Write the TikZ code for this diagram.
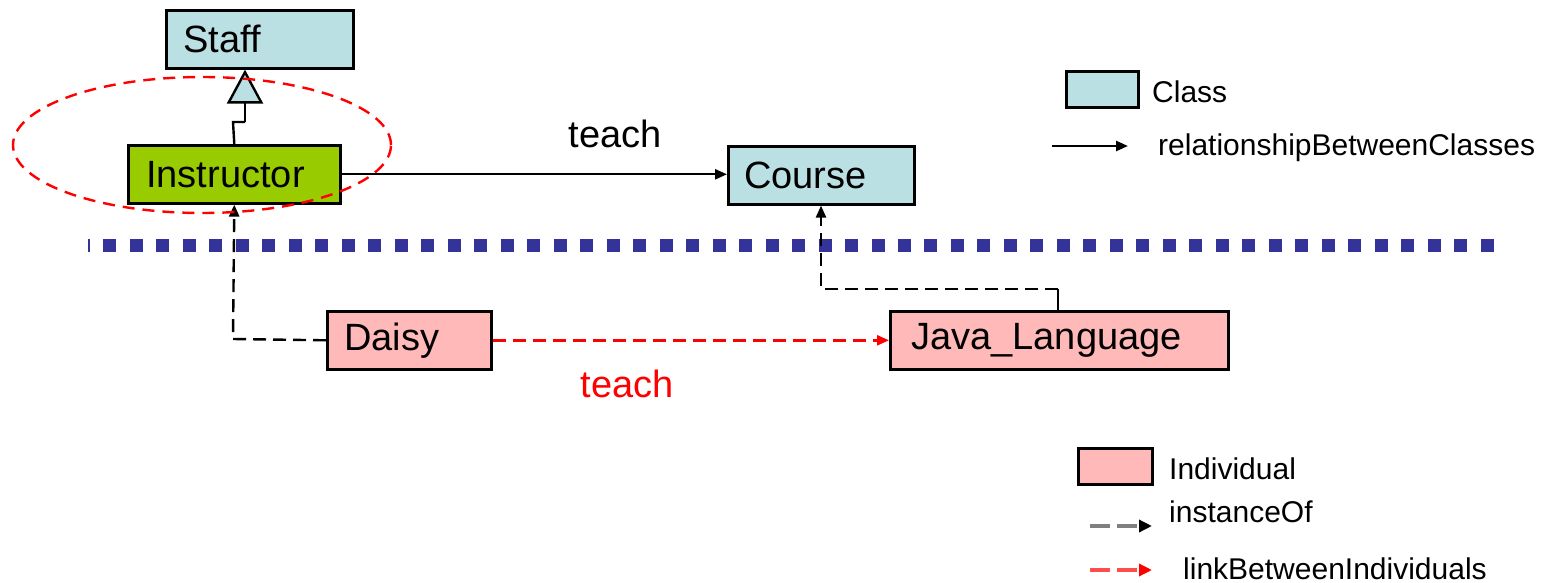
\documentclass[tikz,border=0pt]{standalone}
\usepackage{fontspec}
\setmainfont{Liberation Sans}
\usetikzlibrary{arrows.meta}
\definecolor{clsblue}{RGB}{187,224,227}
\definecolor{indpink}{RGB}{255,185,185}
\definecolor{instgreen}{RGB}{153,204,0}
\definecolor{dotblue}{RGB}{51,51,153}
\begin{document}
\begin{tikzpicture}[x=1pt,y=-1pt,
  basebox/.style={draw=black, line width=2.6pt, inner xsep=17pt, inner ysep=0pt,
    minimum height=58pt, anchor=north west, align=left,
    font=\fontsize{38}{40}\selectfont},
  clsbox/.style={basebox, fill=clsblue},
  indbox/.style={basebox, fill=indpink},
  grnbox/.style={basebox, fill=instgreen},
  legbox/.style={draw=black, line width=2.6pt, inner sep=0pt, anchor=north west},
  legtext/.style={anchor=base west, inner sep=0pt, font=\fontsize{30}{32}\selectfont},
  tip/.style={-{Triangle[length=12pt,width=10pt]}},
  conn/.style={line width=2.4pt, tip},
  instof/.style={line width=2.4pt, dash pattern=on 13pt off 7pt, tip},
  redlink/.style={line width=2.4pt, red, dash pattern=on 13pt off 7pt, tip}
]
\useasboundingbox[fill=white] (0,0) rectangle (1551,583);

% separator
\draw[line width=13pt, dotblue, dash pattern=on 13pt off 13.49pt, dash phase=11.2pt]
  (88,245) -- (1494,245);

% class nodes
\node[clsbox, text width=153pt] (staff) at (165,9) {Staff};
\node[grnbox, text width=176pt, inner xsep=18pt] (instr) at (127,144) {Instructor};
\node[clsbox, text width=154pt, inner xsep=16pt] (course) at (727,145) {Course};

% individuals
\node[indbox, text width=130pt] (daisy) at (326,310) {Daisy};
\node[indbox, text width=296pt, inner xsep=21pt] (java) at (889,310) {Java\_Language};

% generalization
\coordinate (g1) at (233,122);
\coordinate (g2) at (245,122);
\draw[line width=2.4pt] (instr.north) -- (g1) -- (g2);
\draw[line width=2.4pt, -{Triangle[length=34pt,width=36pt,fill=clsblue]}]
  (g2) -- (staff.south -| g2);

% teach relationship
\draw[conn] (instr.east) -- (course.west |- instr.east);
\node[anchor=base, inner sep=0pt, font=\fontsize{38}{40}\selectfont] (teachlbl) at (615,148) {teach};

% instanceOf links
\coordinate (d1) at (233,339);
\draw[instof] (daisy.west) -- (d1) -- (instr.south);
\coordinate (j1) at (1058,289);
\coordinate (j2) at (821,289);
\draw[line width=2.4pt] (java.north -| j1) -- (j1);
\draw[instof] (j1) -- (j2) -- (course.south -| j2);

% link between individuals
\draw[redlink] (daisy.east) -- (java.west |- daisy.east);
\node[anchor=base, inner sep=0pt, red, font=\fontsize{38}{40}\selectfont] (teachred) at (627,397) {teach};

% highlight ellipse
\draw[red, line width=2.4pt, dash pattern=on 12pt off 8pt] (202,145) ellipse [x radius=189pt, y radius=68pt];

% legend top
\node[legbox, fill=clsblue, minimum width=72pt, minimum height=36pt] (lgcls) at (1065,70) {};
\node[legtext] (lgclstxt) at (1152,103) {Class};
\coordinate (la1) at (1052,146);
\coordinate (la2) at (1128,146);
\draw[conn] (la1) -- (la2);
\node[legtext] (lgreltxt) at (1158,156) {relationshipBetweenClasses};

% legend bottom
\node[legbox, fill=indpink, minimum width=74pt, minimum height=36pt] (lgind) at (1077,447) {};
\node[legtext] (lgindtxt) at (1169,479) {Individual};
\coordinate (lb1) at (1090,526);
\coordinate (lb2) at (1152,526);
\draw[line width=3.6pt, gray, dash pattern=on 20pt off 7pt, -{Triangle[length=13pt,width=12pt,black]}] (lb1) -- (lb2);
\node[legtext] (lginsttxt) at (1169,522) {instanceOf};
\coordinate (lc1) at (1090,570);
\coordinate (lc2) at (1152,570);
\draw[line width=3.6pt, red!70, dash pattern=on 20pt off 7pt, -{Triangle[length=13pt,width=12pt,red]}] (lc1) -- (lc2);
\node[legtext] (lglinktxt) at (1183,579) {linkBetweenIndividuals};
\end{tikzpicture}
\end{document}
